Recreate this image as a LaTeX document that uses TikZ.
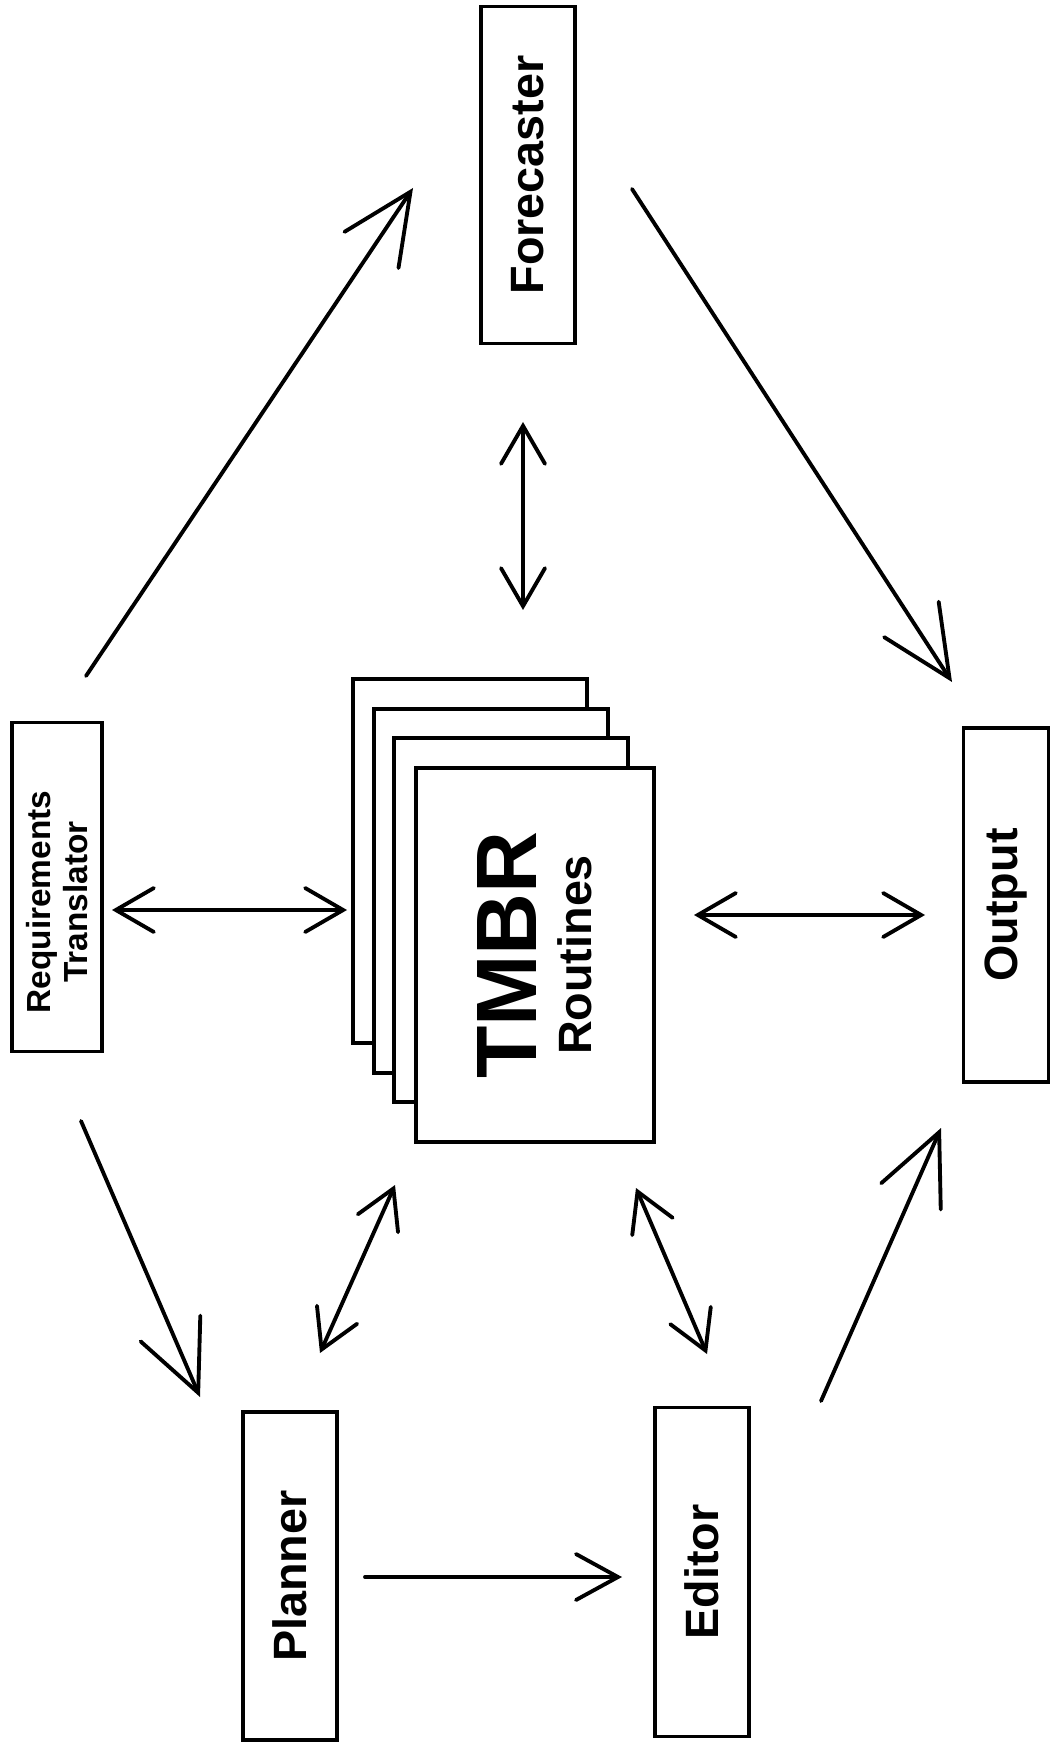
\documentclass[tikz,border=0pt]{standalone}
\usepackage{fontspec}
\setmainfont{Liberation Sans}
\usetikzlibrary{arrows.meta}
\tikzset
{
    unitbox/.style = {rectangle, draw=black, line width=1.1pt, fill=white, rotate=90, align=center, inner sep=0pt, font=\fontsize{13.3}{15}\selectfont\bfseries},
    page/.style    = {rectangle, draw=black, line width=1.1pt, fill=white, rotate=90, minimum width=36.4mm, minimum height=23.4mm},
    flow/.style    = {line width=1.1pt, line cap=round, -{Straight Barb[length=7mm, width=6.5mm, line cap=round]}},
    link/.style    = {line width=1.1pt, line cap=round, {Straight Barb[length=3.8mm, width=4.4mm, line cap=round]}-{Straight Barb[length=3.8mm, width=4.4mm, line cap=round]}}
}

\begin{document}
\begin{tikzpicture}[x=0.1mm, y=-0.1mm]
\useasboundingbox (0,0) rectangle (1052,1743);

\node (rt)		[unitbox, minimum width=32.9mm, minimum height=9mm, font=\fontsize{9.5}{10.5}\selectfont\bfseries]	at (57,887)		{Requirements\hspace*{3mm}\\Translator\hspace*{3mm}};
\node (fc)		[unitbox, minimum width=33.7mm, minimum height=9.4mm]	at (528,175)	{Forecaster};
\node (out)		[unitbox, minimum width=35.4mm, minimum height=8.5mm]	at (1006,905)	{Output};
\node (plan)	[unitbox, minimum width=32.8mm, minimum height=9.4mm]	at (290,1576)	{Planner};
\node (ed)		[unitbox, minimum width=32.9mm, minimum height=9.4mm]	at (702,1572)	{Editor};

%% stack of routines
\node (pg3)		[page]	at (470,861)	{};
\node (pg2)		[page]	at (491,891)	{};
\node (pg1)		[page]	at (511,920)	{};
\node (tmbr)	[page, minimum width=37.4mm, minimum height=23.8mm, align=center, font=\fontsize{13.3}{15.6}\selectfont\bfseries]	at (535,955)	{{\fontsize{24.4}{15.6}\selectfont TMBR}\\Routines};

%% arrow ends
\coordinate (rt-n)		at (86,676);
\coordinate (fc-w)		at (413,188);
\coordinate (fc-e)		at (632,189);
\coordinate (out-n)		at (952,682);
\coordinate (fc-s)		at (523,422);
\coordinate (tmbr-n)	at (523,610);
\coordinate (rt-e)		at (112,910);
\coordinate (tmbr-w)	at (347,910);
\coordinate (tmbr-e)	at (694,915);
\coordinate (out-w)		at (925,915);
\coordinate (rt-s)		at (81,1121);
\coordinate (plan-n)	at (200,1397);
\coordinate (tmbr-sw)	at (395,1185);
\coordinate (plan-ne)	at (320,1353);
\coordinate (tmbr-se)	at (636,1188);
\coordinate (ed-nw)		at (707,1354);
\coordinate (ed-ne)		at (821,1401);
\coordinate (out-s)		at (941,1128);
\coordinate (plan-e)	at (365,1577);
\coordinate (ed-w)		at (622,1577);

\path
(rt-n)		edge[flow]	(fc-w)
(fc-e)		edge[flow]	(out-n)
(rt-s)		edge[flow]	(plan-n)
(ed-ne)		edge[flow]	(out-s)
(fc-s)		edge[link]	(tmbr-n)
(rt-e)		edge[link]	(tmbr-w)
(tmbr-e)	edge[link]	(out-w)
(tmbr-sw)	edge[link]	(plan-ne)
(tmbr-se)	edge[link]	(ed-nw)
(plan-e)	edge[line width=1.1pt, line cap=round, -{Straight Barb[length=4.2mm, width=4.6mm, line cap=round]}]	(ed-w);
\end{tikzpicture}
\end{document}
